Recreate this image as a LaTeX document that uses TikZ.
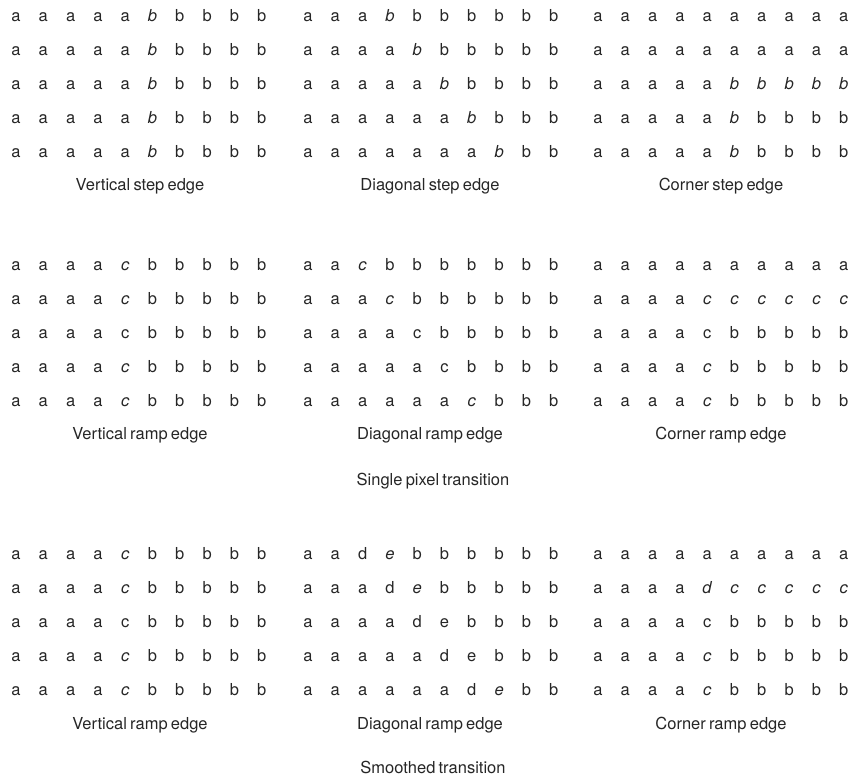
\documentclass[tikz,border=0pt]{standalone}
\usepackage{fontspec}
\setmainfont{TeX Gyre Heros}
\newfontfamily\capfont[WordSpace=0.7]{TeX Gyre Heros}
\usetikzlibrary{positioning}
\tikzset {
  x=1pt, y=-1pt,
  every node/.style={text=black!85, inner sep=0pt},
  pix/.style={anchor=base, font=\fontsize{16.5}{18}\selectfont},
  caption/.style={anchor=base, font=\capfont\fontsize{16.5}{18}\selectfont},
}
% one block of 5x10 pixel values, first centre at (#2,#3)
\newcommand{\pixgrid}[4]{%
  \foreach \row [count=\r] in {#4} {
    \foreach \val [count=\c] in \row {
      \node[pix] (#1-\r-\c) at ({#2+(\c-1)*27.3},{#3+5+(\r-1)*34}) {\val};
    }
  }
}
\newcommand{\ib}{\textit{b}}
\newcommand{\ic}{\textit{c}}
\newcommand{\id}{\textit{d}}
\newcommand{\ie}{\textit{e}}

\begin{document}
\begin{tikzpicture}
  \useasboundingbox (0,0) rectangle (854,780);

  % step edges
  \pixgrid{vstep}{16}{16}{
    {a,a,a,a,a,\ib,b,b,b,b},
    {a,a,a,a,a,\ib,b,b,b,b},
    {a,a,a,a,a,\ib,b,b,b,b},
    {a,a,a,a,a,\ib,b,b,b,b},
    {a,a,a,a,a,\ib,b,b,b,b}}
  \pixgrid{dstep}{308}{16}{
    {a,a,a,\ib,b,b,b,b,b,b},
    {a,a,a,a,\ib,b,b,b,b,b},
    {a,a,a,a,a,\ib,b,b,b,b},
    {a,a,a,a,a,a,\ib,b,b,b},
    {a,a,a,a,a,a,a,\ib,b,b}}
  \pixgrid{cstep}{598}{16}{
    {a,a,a,a,a,a,a,a,a,a},
    {a,a,a,a,a,a,a,a,a,a},
    {a,a,a,a,a,\ib,\ib,\ib,\ib,\ib},
    {a,a,a,a,a,\ib,b,b,b,b},
    {a,a,a,a,a,\ib,b,b,b,b}}
  \node[caption] (vstep-cap) at (140,190) {Vertical step edge};
  \node[caption] (dstep-cap) at (430,190) {Diagonal step edge};
  \node[caption] (cstep-cap) at (721,190) {Corner step edge};

  % single pixel transition
  \pixgrid{vramp}{16}{265}{
    {a,a,a,a,\ic,b,b,b,b,b},
    {a,a,a,a,\ic,b,b,b,b,b},
    {a,a,a,a,c,b,b,b,b,b},
    {a,a,a,a,\ic,b,b,b,b,b},
    {a,a,a,a,\ic,b,b,b,b,b}}
  \pixgrid{dramp}{308}{265}{
    {a,a,\ic,b,b,b,b,b,b,b},
    {a,a,a,\ic,b,b,b,b,b,b},
    {a,a,a,a,c,b,b,b,b,b},
    {a,a,a,a,a,c,b,b,b,b},
    {a,a,a,a,a,a,\ic,b,b,b}}
  \pixgrid{cramp}{598}{265}{
    {a,a,a,a,a,a,a,a,a,a},
    {a,a,a,a,\ic,\ic,\ic,\ic,\ic,\ic},
    {a,a,a,a,c,b,b,b,b,b},
    {a,a,a,a,\ic,b,b,b,b,b},
    {a,a,a,a,\ic,b,b,b,b,b}}
  \node[caption] (vramp-cap) at (140,439) {Vertical ramp edge};
  \node[caption] (dramp-cap) at (430,439) {Diagonal ramp edge};
  \node[caption] (cramp-cap) at (721,439) {Corner ramp edge};
  \node[caption] (single) at (433,485) {Single pixel transition};

  % smoothed transition
  \pixgrid{vsmooth}{16}{554}{
    {a,a,a,a,\ic,b,b,b,b,b},
    {a,a,a,a,\ic,b,b,b,b,b},
    {a,a,a,a,c,b,b,b,b,b},
    {a,a,a,a,\ic,b,b,b,b,b},
    {a,a,a,a,\ic,b,b,b,b,b}}
  \pixgrid{dsmooth}{308}{554}{
    {a,a,d,\ie,b,b,b,b,b,b},
    {a,a,a,d,\ie,b,b,b,b,b},
    {a,a,a,a,d,e,b,b,b,b},
    {a,a,a,a,a,d,e,b,b,b},
    {a,a,a,a,a,a,d,\ie,b,b}}
  \pixgrid{csmooth}{598}{554}{
    {a,a,a,a,a,a,a,a,a,a},
    {a,a,a,a,\id,\ic,\ic,\ic,\ic,\ic},
    {a,a,a,a,c,b,b,b,b,b},
    {a,a,a,a,\ic,b,b,b,b,b},
    {a,a,a,a,\ic,b,b,b,b,b}}
  \node[caption] (vsmooth-cap) at (140,729) {Vertical ramp edge};
  \node[caption] (dsmooth-cap) at (430,729) {Diagonal ramp edge};
  \node[caption] (csmooth-cap) at (721,729) {Corner ramp edge};
  \node[caption] (smoothed) at (433,773) {Smoothed transition};
\end{tikzpicture}
\end{document}
